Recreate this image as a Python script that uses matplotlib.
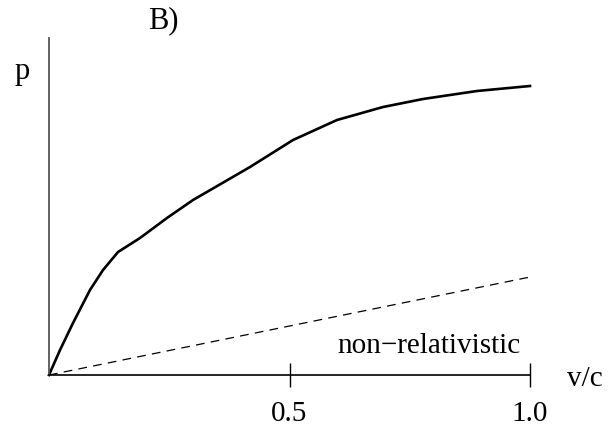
import matplotlib
matplotlib.use("Agg")
import matplotlib.pyplot as plt

# Data (p in arbitrary units, v/c from 0 to 1)
v_rel = [0.0, 0.0229, 0.0499, 0.0852, 0.1123, 0.1435, 0.1892, 0.2453, 0.2994,
         0.4179, 0.5073, 0.5988, 0.6944, 0.7775, 0.8898, 1.0]
p_rel = [0.0, 0.0865, 0.1799, 0.2941, 0.3633, 0.4256, 0.4740, 0.5433, 0.6055,
         0.7197, 0.8131, 0.8824, 0.9273, 0.9550, 0.9827, 1.0]
v_nonrel = [0.0, 1.0]
p_nonrel = [0.0, 0.339]
xticks = [0.5, 1.0]
xticklabels = ["0.5", "1.0"]

plt.rcParams['font.family'] = ['Liberation Serif', 'DejaVu Serif']

W, H = 615, 434
fig = plt.figure(figsize=(W / 100, H / 100), dpi=100)
ax = fig.add_axes([49 / W, 59 / H, 481 / W, 337 / H])

ax.plot(v_rel, p_rel, color='black', lw=1.9, clip_on=False, solid_joinstyle='round')
ax.plot(v_nonrel, p_nonrel, color='black', lw=0.9, ls=(0, (7, 5)), clip_on=False)

ax.set_xlim(0, 1.0)
ax.set_ylim(0, 337 / 289)
for s in ['top', 'right']:
    ax.spines[s].set_visible(False)
ax.spines['left'].set_color('#555555')
ax.spines['left'].set_linewidth(1.3)
ax.spines['bottom'].set_color('black')
ax.spines['bottom'].set_linewidth(1.2)

ax.set_yticks([])
ax.set_xticks(xticks)
ax.set_xticklabels(xticklabels, fontsize=21)
ax.tick_params(axis='x', direction='inout', length=17, width=1.0, pad=10, color='black')

ax.text(0.6, 0.075, "non\u2212relativistic", fontsize=21, ha='left', va='baseline')

fig.text(163 / W, 1 - 21 / H, "B)", fontsize=22, ha='center', va='center')
fig.text(22 / W, 1 - 71 / H, "p", fontsize=22, ha='center', va='center')
fig.text(585 / W, 1 - 379 / H, "v/c", fontsize=21, ha='center', va='center')

fig.savefig("out.png", dpi=100, facecolor='white')
